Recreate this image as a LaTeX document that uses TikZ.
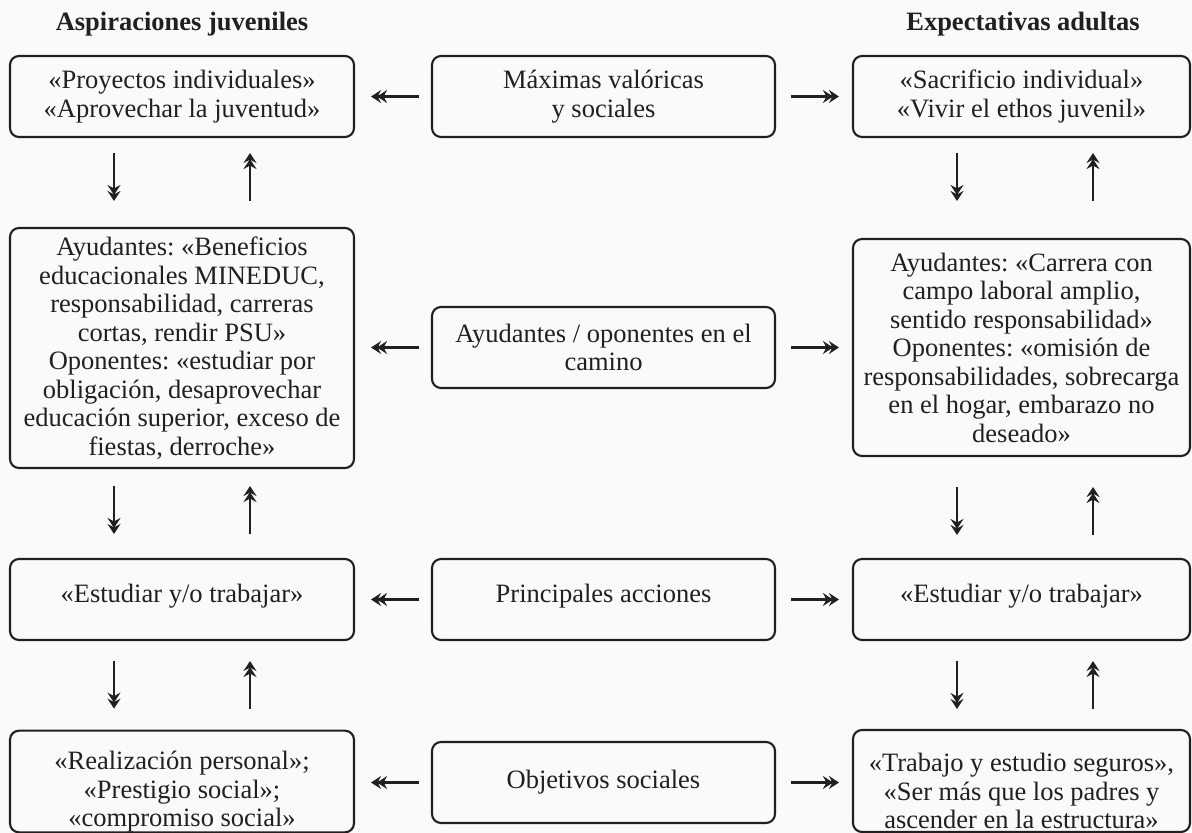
\documentclass[tikz,border=0pt]{standalone}
\usepackage{fontspec}
\setmainfont{Liberation Serif}
\usetikzlibrary{arrows.meta}
\definecolor{ink}{RGB}{35,31,32}
\definecolor{paper}{RGB}{250,250,250}
\frenchspacing
\tikzset{
  box/.style={draw=ink, text=ink, line width=2.1pt, rounded corners=9pt, align=center,
    inner sep=0pt, font=\fontsize{26.5}{28.5}\selectfont},
  colL/.style={minimum width=344pt},
  colM/.style={minimum width=343pt},
  colR/.style={minimum width=337pt},
  hdr/.style={text=ink, font=\fontsize{26.5}{28.5}\selectfont\bfseries, inner sep=0pt},
  arr/.style={draw=ink, line width=2.6pt,
    -{Stealth[length=10pt,width=13pt,inset=3.5pt,sep=-4pt]Stealth[length=10pt,width=13pt,inset=3.5pt]}},
}
\begin{document}
\begin{tikzpicture}[x=1pt,y=-1pt]
\fill[paper] (0,0) rectangle (1192,833);
\useasboundingbox (0,0) rectangle (1192,833);

\node[hdr] (hL) at (182,24) {Aspiraciones juveniles};
\node[hdr] (hR) at (1023,24) {Expectativas adultas};

% row 1
\node[box,colL,minimum height=81pt] (L1) at (182,96.5) {«Proyectos individuales»\\«Aprovechar la juventud»};
\node[box,colM,minimum height=81pt] (M1) at (603.5,96.5) {Máximas valóricas\\y sociales};
\node[box,colR,minimum height=81pt] (R1) at (1021.5,96.5) {«Sacrificio individual»\\«Vivir el ethos juvenil»};

% row 2
\node[box,colL,minimum height=240pt] (L2) at (182,348) {Ayudantes: «Beneficios\\educacionales MINEDUC,\\responsabilidad, carreras\\cortas, rendir PSU»\\Oponentes: «estudiar por\\obligación, desaprovechar\\educación superior, exceso de\\fiestas, derroche»};
\node[box,colM,minimum height=81pt] (M2) at (603.5,347.5) {Ayudantes / oponentes en el\\camino};
\node[box,colR,minimum height=217pt] (R2) at (1021.5,347.5) {Ayudantes: «Carrera con\\campo laboral amplio,\\sentido responsabilidad»\\Oponentes: «omisión de\\responsabilidades, sobrecarga\\en el hogar, embarazo no\\deseado»};

% row 3
\node[box,colL,minimum height=81pt] (L3) at (182,599.5) {«Estudiar y/o trabajar»\rule[-12pt]{0pt}{1pt}};
\node[box,colM,minimum height=81pt] (M3) at (603.5,599.5) {Principales acciones\rule[-12pt]{0pt}{1pt}};
\node[box,colR,minimum height=81pt] (R3) at (1021.5,599.5) {«Estudiar y/o trabajar»\rule[-12pt]{0pt}{1pt}};

% row 4
\node[box,colL,minimum height=101pt] (L4) at (182,781.5) {\rule{0pt}{39pt}«Realización personal»;\\«Prestigio social»;\\«compromiso social»};
\node[box,colM,minimum height=81pt] (M4) at (603.5,782.5) {Objetivos sociales};
\node[box,colR,minimum height=102pt] (R4) at (1021.5,781) {\rule{0pt}{39pt}«Trabajo y estudio seguros»,\\«Ser más que los padres y\\ascender en la estructura»};

% horizontal arrows
\draw[arr,shorten <=12pt,shorten >=16pt] (M1.west) -- (M1.west -| L1.east);
\draw[arr,shorten <=15pt,shorten >=13pt] (M1.east) -- (M1.east -| R1.west);
\draw[arr,shorten <=12pt,shorten >=16pt] (M2.west) -- (M2.west -| L2.east);
\draw[arr,shorten <=15pt,shorten >=13pt] (M2.east) -- (M2.east -| R2.west);
\draw[arr,shorten <=12pt,shorten >=16pt] (M3.west) -- (M3.west -| L3.east);
\draw[arr,shorten <=15pt,shorten >=13pt] (M3.east) -- (M3.east -| R3.west);
\draw[arr,shorten <=12pt,shorten >=16pt] (M4.west) -- (M4.west -| L4.east);
\draw[arr,shorten <=15pt,shorten >=13pt] (M4.east) -- (M4.east -| R4.west);

% vertical arrows, left column
\draw[arr,shorten <=15pt,shorten >=26pt] ([xshift=-68pt]L1.south) -- ([xshift=-68pt]L2.north);
\draw[arr,shorten <=26pt,shorten >=15pt] ([xshift=68pt]L2.north) -- ([xshift=68pt]L1.south);
\draw[arr,shorten <=17pt,shorten >=24pt] ([xshift=-68pt]L2.south) -- ([xshift=-68pt]L3.north);
\draw[arr,shorten <=24pt,shorten >=17pt] ([xshift=68pt]L3.north) -- ([xshift=68pt]L2.south);
\draw[arr,shorten <=20pt,shorten >=21pt] ([xshift=-68pt]L3.south) -- ([xshift=-68pt]L4.north);
\draw[arr,shorten <=21pt,shorten >=20pt] ([xshift=68pt]L4.north) -- ([xshift=68pt]L3.south);

% vertical arrows, right column
\draw[arr,shorten <=15pt,shorten >=37pt] ([xshift=-64.5pt]R1.south) -- ([xshift=-64.5pt]R2.north);
\draw[arr,shorten <=37pt,shorten >=15pt] ([xshift=71.5pt]R2.north) -- ([xshift=71.5pt]R1.south);
\draw[arr,shorten <=30pt,shorten >=23pt] ([xshift=-64.5pt]R2.south) -- ([xshift=-64.5pt]R3.north);
\draw[arr,shorten <=23pt,shorten >=30pt] ([xshift=71.5pt]R3.north) -- ([xshift=71.5pt]R2.south);
\draw[arr,shorten <=20pt,shorten >=20pt] ([xshift=-64.5pt]R3.south) -- ([xshift=-64.5pt]R4.north);
\draw[arr,shorten <=20pt,shorten >=20pt] ([xshift=71.5pt]R4.north) -- ([xshift=71.5pt]R3.south);
\end{tikzpicture}
\end{document}
